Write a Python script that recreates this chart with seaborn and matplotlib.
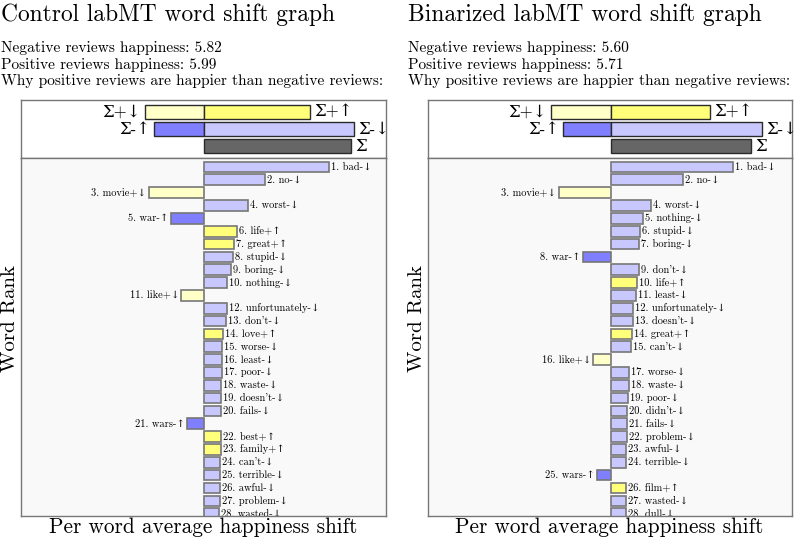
import pandas as pd
import seaborn as sns
import matplotlib.pyplot as plt

# Data (shift values, arbitrary units)
panel_titles = ['Control labMT word shift graph', 'Binarized labMT word shift graph']
neg_happiness = [5.82, 5.60]
pos_happiness = [5.99, 5.71]

sum_rows = ['Σ+', 'Σ+', 'Σ-', 'Σ-', 'Σ']
sum_kinds = ['+↓', '+↑', '-↑', '-↓', 'tot']
sum_left = [-59.3, 106.0, -49.7, 150.3, 147.0]
sum_right = [-60.7, 98.7, -48.0, 150.7, 139.7]

words_left = ['bad', 'no', 'movie', 'worst', 'war', 'life', 'great', 'stupid', 'boring', 'nothing',
              'like', 'unfortunately', "don't", 'love', 'worse', 'least', 'poor', 'waste', "doesn't",
              'fails', 'wars', 'best', 'family', "can't", 'terrible', 'awful', 'problem', 'wasted']
kinds_left = ['-↓', '-↓', '+↓', '-↓', '-↑', '+↑', '+↑', '-↓', '-↓', '-↓',
              '+↓', '-↓', '-↓', '+↑', '-↓', '-↓', '-↓', '-↓', '-↓',
              '-↓', '-↑', '+↑', '+↑', '-↓', '-↓', '-↓', '-↓', '-↓']
values_left = [125.3, 61.3, -55.3, 44.3, -33.0, 33.3, 30.3, 29.3, 27.3, 23.3,
               -22.7, 22.7, 21.7, 18.7, 18.0, 17.7, 17.5, 17.3, 17.2,
               17.0, -17.0, 16.7, 16.5, 16.3, 15.7, 15.6, 15.5, 15.3]

words_right = ['bad', 'no', 'movie', 'worst', 'nothing', 'stupid', 'boring', 'war', "don't", 'life',
               'least', 'unfortunately', "doesn't", 'great', "can't", 'like', 'worse', 'waste', 'poor',
               "didn't", 'fails', 'problem', 'awful', 'terrible', 'wars', 'film', 'wasted', 'dull']
kinds_right = ['-↓', '-↓', '+↓', '-↓', '-↓', '-↓', '-↓', '-↑', '-↓', '+↑',
               '-↓', '-↓', '-↓', '+↑', '-↓', '+↓', '-↓', '-↓', '-↓',
               '-↓', '-↓', '-↓', '-↓', '-↓', '-↑', '+↑', '-↓', '-↓']
values_right = [121.3, 72.0, -52.7, 39.7, 32.0, 28.7, 28.0, -28.0, 28.0, 25.7,
                25.0, 22.0, 21.7, 20.7, 19.4, -18.0, 18.0, 17.4, 16.4,
                16.0, 15.4, 15.4, 15.0, 15.0, -14.3, 14.7, 14.4, 14.4]

palette = {'+↓': '#ffffc8', '+↑': '#ffff7a', '-↑': '#7f7fff', '-↓': '#c8c8ff', 'tot': '#666666'}

FONT = ['cmr10', 'DejaVu Serif']
plt.rcParams['font.family'] = FONT
plt.rcParams['axes.unicode_minus'] = False

fig = plt.figure(figsize=(7.97, 5.45), dpi=100)

panels = [
    (0.026, 0.4584, sum_left, words_left, kinds_left, values_left, (-183.3, 182.0)),
    (0.5366, 0.4567, sum_right, words_right, kinds_right, values_right, (-183.6, 180.4)),
]

for p, (x0, w, sums, words, kinds, values, xlim) in enumerate(panels):
    # header text
    tx = 0.001 if p == 0 else 0.512
    fig.text(tx, 0.962, panel_titles[p], fontsize=16.9, va='baseline')
    fig.text(tx, 0.904, f'Negative reviews happiness: {neg_happiness[p]:.2f}', fontsize=11.1, va='baseline')
    fig.text(tx, 0.873, f'Positive reviews happiness: {pos_happiness[p]:.2f}', fontsize=11.1, va='baseline')
    fig.text(tx, 0.844, 'Why positive reviews are happier than negative reviews:', fontsize=11.1, va='baseline')

    # summary bars
    ax_s = fig.add_axes([x0, 0.7106, w, 0.1059])
    df_s = pd.DataFrame({'row': sum_rows, 'kind': sum_kinds, 'value': sums})
    sns.barplot(data=df_s, x='value', y='row', hue='kind', dodge=False, palette=palette, saturation=1,
                orient='h', width=0.84, edgecolor='#2a2a2a', linewidth=1.0, legend=False, ax=ax_s)
    for _, r in df_s.iterrows():
        yi = ['Σ+', 'Σ-', 'Σ'].index(r['row'])
        lab = 'Σ' if r['kind'] == 'tot' else 'Σ' + r['kind']
        if r['value'] < 0:
            ax_s.annotate(lab, (r['value'], yi), xytext=(-3, 0), textcoords='offset points',
                          ha='right', va='center', fontsize=12)
        else:
            ax_s.annotate(lab, (r['value'], yi), xytext=(3, 0), textcoords='offset points',
                          ha='left', va='center', fontsize=12)
    ax_s.set_xlim(*xlim)
    ax_s.set_ylim(2.69, -0.73)
    ax_s.set_facecolor('white')

    # word bars
    ax_w = fig.add_axes([x0, 0.0532, w, 0.6574])
    ranks = [str(i + 1) for i in range(len(words))]
    df_w = pd.DataFrame({'rank': ranks, 'word': words, 'kind': kinds, 'value': values})
    sns.barplot(data=df_w, x='value', y='rank', hue='kind', dodge=False, palette=palette, saturation=1,
                orient='h', width=0.83, edgecolor='#777777', linewidth=1.2, legend=False,
                order=ranks, ax=ax_w)
    for i, r in df_w.iterrows():
        lab = f"{r['rank']}. {r['word']}{r['kind']}"
        if r['value'] < 0:
            ax_w.annotate(lab, (r['value'], i), xytext=(-1.5, 0), textcoords='offset points',
                          ha='right', va='center', fontsize=7.5)
        else:
            ax_w.annotate(lab, (r['value'], i), xytext=(1.5, 0), textcoords='offset points',
                          ha='left', va='center', fontsize=7.5, clip_on=True)
    ax_w.set_xlim(*xlim)
    ax_w.set_ylim(27.18, -0.72)
    ax_w.set_facecolor('#f9f9f9')

    for a in (ax_s, ax_w):
        a.set_xticks([])
        a.set_yticks([])
        a.set_xlabel('')
        a.set_ylabel('')
        for sp in a.spines.values():
            sp.set_color('#777777')
            sp.set_linewidth(1.0)

    fig.text(x0 + w / 2, 0.022, 'Per word average happiness shift', fontsize=15.3, ha='center', va='baseline')
    fig.text(0.0125 if p == 0 else 0.5232, 0.4165, 'Word Rank', fontsize=15, rotation=90,
             ha='center', va='center')

fig.savefig('out.png', dpi=100)
